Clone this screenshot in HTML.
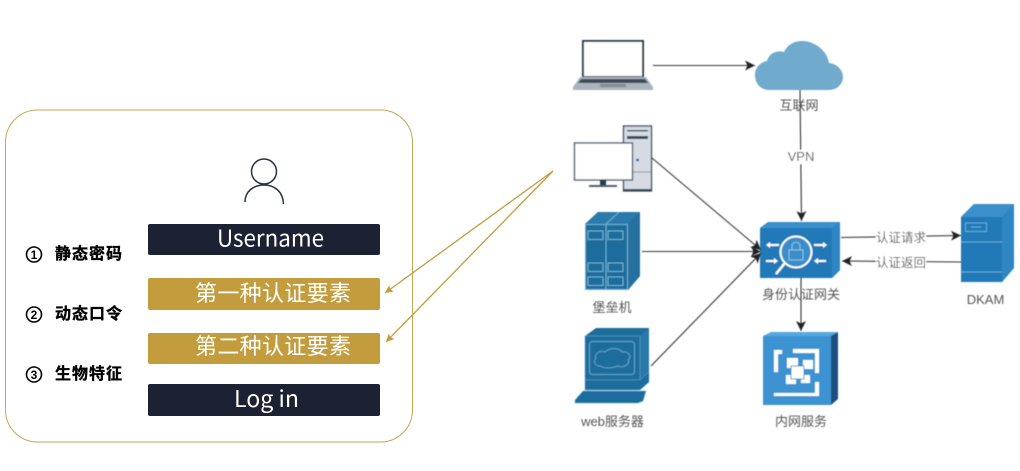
<!DOCTYPE html>
<html><head><meta charset="utf-8">
<style>
html,body{margin:0;padding:0;background:#fff;width:1020px;height:471px;overflow:hidden}
svg{display:block}
.cn{font-family:"Liberation Sans","Noto Sans CJK SC",sans-serif}
.lab{font-family:"Noto Sans CJK SC","Liberation Sans",sans-serif;font-size:16px;font-weight:700;fill:#000;stroke:#000;stroke-width:.35px}
.bar{font-family:"Noto Sans CJK SC","Liberation Sans",sans-serif;fill:#fff;text-anchor:start}
.g{font-family:"Liberation Sans","Noto Sans CJK SC",sans-serif;font-size:13px;fill:#555;text-anchor:middle}
</style></head><body>
<svg width="1020" height="471" viewBox="0 0 1020 471" xmlns="http://www.w3.org/2000/svg">
<defs>
<filter id="b" x="-5%" y="-5%" width="110%" height="110%"><feGaussianBlur stdDeviation="0.45"/></filter>
<filter id="s" x="-5%" y="-20%" width="110%" height="140%"><feGaussianBlur stdDeviation="0.25"/></filter>
<marker id="a" markerUnits="userSpaceOnUse" markerWidth="11" markerHeight="10" refX="10" refY="5" orient="auto"><path d="M0 0L10 5L0 10L2.5 5Z" fill="#222"/></marker>
<marker id="y" markerUnits="userSpaceOnUse" markerWidth="9" markerHeight="8" refX="8" refY="4" orient="auto"><path d="M0 0L8 4L0 8L1.5 4Z" fill="#c39c3d"/></marker>
</defs>

<!-- left panel -->
<rect x="5.5" y="110" width="407" height="332" rx="32" fill="#fff" stroke="#cba552" stroke-width="1"/>
<circle cx="264" cy="171.500" r="12.500" fill="none" stroke="#2a3143" stroke-width="1.500"/>
<path d="M245 202C245 191 254 185 264 185C274 185 283 191 283.500 204" fill="none" stroke="#2a3143" stroke-width="1.500"/>
<rect x="148" y="224" width="232" height="31" rx="2" fill="#1c2133"/>
<rect x="148" y="278" width="232" height="32" rx="2" fill="#c39c3d"/>
<rect x="148" y="333" width="232" height="31" rx="2" fill="#c39c3d"/>
<rect x="148" y="384" width="232" height="32" rx="2" fill="#1c2133"/>
<g filter="url(#s)">
<text class="bar" x="217" y="246.500" font-size="23" textLength="107" lengthAdjust="spacingAndGlyphs">Username</text>
<text class="bar" x="195" y="301" font-size="22" textLength="156">第一种认证要素</text>
<text class="bar" x="195" y="354" font-size="22" textLength="156">第二种认证要素</text>
<text class="bar" x="234" y="407" font-size="23" textLength="65" lengthAdjust="spacingAndGlyphs">Log in</text>
</g>

<g fill="none" stroke="#000" stroke-width="1.600">
<circle cx="34" cy="254.500" r="7.500"/><circle cx="34" cy="314.500" r="7.500"/><circle cx="34" cy="374.500" r="7.500"/>
</g>
<g class="cn" font-size="12" font-weight="700" text-anchor="middle" fill="#000">
<text x="34" y="259">1</text><text x="34" y="319">2</text><text x="34" y="379">3</text>
</g>
<text class="lab" x="55" y="259" textLength="67">静态密码</text>
<text class="lab" x="55" y="319" textLength="67">动态口令</text>
<text class="lab" x="55" y="379" textLength="67">生物特征</text>

<line x1="553" y1="171" x2="385" y2="293" stroke="#c39c3d" stroke-width="1.300" marker-end="url(#y)"/>
<line x1="553" y1="171" x2="386" y2="342" stroke="#c39c3d" stroke-width="1.300" marker-end="url(#y)"/>

<!-- right diagram -->
<g filter="url(#b)">
<!-- laptop -->
<rect x="583" y="41" width="60" height="36" fill="#fff" stroke="#2c3e50" stroke-width="2"/>
<path d="M580 77H646L653 87V90H573V87Z" fill="#a9b4bd"/>
<path d="M581 79H645L648 83H578Z" fill="#3f4c59"/>
<rect x="600" y="84" width="26" height="3" fill="#7f8c97"/>
<!-- cloud -->
<path d="M770 90C760 90 755 83 755 75C755 67 761 62 767 61C769 53 777 50 784 52C788 44 795 41 802 41C814 41 827 50 829 63C838 64 843 71 843 77C843 84 837 90 829 90Z" fill="#6faacd"/>
<!-- PC -->
<rect x="623.500" y="126" width="28" height="65" fill="#d5dbe0" stroke="#34495e" stroke-width="1.300"/>
<rect x="627" y="130" width="21" height="1.500" fill="#34495e"/>
<rect x="627" y="136" width="21" height="3" fill="#34495e"/>
<line x1="624" y1="172" x2="651" y2="172" stroke="#8a97a3"/>
<rect x="623" y="189" width="29" height="2" fill="#34495e"/>
<circle cx="637.500" cy="160" r="1.500" fill="#2a6fd1"/>
<rect x="574.500" y="143" width="58" height="37" fill="#fff" stroke="#4d6176" stroke-width="1.400"/>
<rect x="600" y="180" width="6" height="5" fill="#2c3e50"/>
<rect x="589" y="185" width="28" height="2" fill="#4d6176"/>
<!-- bastion -->
<path d="M585 224L598 212H640V276L628 290H585Z" fill="#1f6c9c"/>
<path d="M585 224L598 212H640L628 224Z" fill="#2a7aab"/>
<path d="M628 224L640 212V276L628 290Z" fill="#266f9f"/>
<g fill="none" stroke="#6fb3d4" stroke-width="1">
<rect x="585.500" y="224.500" width="42" height="65"/>
<path d="M606 224V290M606 224L619 212"/>
<rect x="588" y="231" width="15" height="8.500"/><rect x="608" y="231" width="15" height="8.500"/>
<rect x="588" y="263" width="15" height="8.500"/><rect x="608" y="263" width="15" height="8.500"/>
<rect x="588" y="277" width="15" height="8.500"/><rect x="608" y="277" width="15" height="8.500"/>
</g>
<!-- web server -->
<path d="M585 336L596 328H649V371L640 380V390L649 382V372L640 380H585Z" fill="#1f6c9c"/>
<path d="M640 336L649 328V373L640 381Z" fill="#2a78a8"/>
<rect x="585" y="336" width="55" height="44" fill="#1f6c9c" stroke="#5fa8cc" stroke-width=".6"/>
<rect x="589.500" y="341.500" width="45" height="33" rx="3" fill="none" stroke="#5fa8cc"/>
<path d="M600 366C594 366 593 360 596 358C594 353 601 350 605 352C610 347 620 348 622 352C630 351 632 358 628 360C631 365 622 368 618 366C613 368 605 369 600 366Z" fill="none" stroke="#5fa8cc"/>
<path d="M585 380H640L649 372V382L640 390H585Z" fill="#1f6c9c" stroke="#5fa8cc" stroke-width=".5"/>
<path d="M583 391H646L643 401L638 403H575V400Z" fill="#1f6c9c" stroke="#5fa8cc" stroke-width=".5"/>
<!-- gateway -->
<path d="M760 228L768 222H840V270L832 278H760Z" fill="#2479b8"/>
<path d="M760 228L768 222H840L832 228Z" fill="#3a90cc"/>
<path d="M832 228L840 222V270L832 278Z" fill="#2f86c3"/>
<circle cx="796" cy="252" r="15.500" fill="#3a8dc9" stroke="#fff" stroke-width="2"/>
<line x1="785" y1="263" x2="776" y2="274" stroke="#fff" stroke-width="2.500"/>
<rect x="789" y="250" width="14" height="10" fill="none" stroke="#8cc3e8"/>
<path d="M792 250V246C792 241 800 241 800 246V250" fill="none" stroke="#8cc3e8"/>
<g stroke="#fff" stroke-width="2">
<line x1="769" y1="245" x2="779" y2="245"/><line x1="814" y1="245" x2="824" y2="245"/>
<line x1="766" y1="261" x2="775" y2="261"/><line x1="817" y1="261" x2="826" y2="261"/>
</g>
<g fill="#fff">
<path d="M766 245L770 242V248Z"/><path d="M827 245L823 242V248Z"/>
<path d="M778 261L774 258V264Z"/><path d="M814 261L818 258V264Z"/>
</g>
<!-- DKAM -->
<path d="M961 217L974 204H1014V268L1002 282H961Z" fill="#2479b8"/>
<path d="M961 217L974 204H1014L1002 217Z" fill="#3a90cc"/>
<path d="M1002 217L1014 204V268L1002 282Z" fill="#2f86c3"/>
<rect x="965.500" y="223" width="21" height="8.500" fill="none" stroke="#66abda"/>
<line x1="971" y1="227" x2="981" y2="227" stroke="#66abda"/>
<line x1="961" y1="242" x2="1002" y2="242" stroke="#66abda"/>
<line x1="961" y1="272" x2="1002" y2="272" stroke="#66abda"/>
<!-- intranet -->
<rect x="763" y="336" width="68" height="69" fill="#3d93d2"/>
<path d="M763 336L771 332H838L831 336Z" fill="#55a8e0"/>
<path d="M831 336L838 332V399L831 405Z" fill="#1c4f80"/>
<path d="M774 350H782V354H778V372H774Z" fill="#fff"/>
<path d="M793 349H819V373H815V353H793Z" fill="#fff"/>
<path d="M774 393H815V382H819V396H774Z" fill="#fff"/>
<rect x="787" y="358" width="11" height="10" fill="#fff"/>
<rect x="803" y="360" width="10" height="9" fill="#fff"/>
<rect x="786" y="375" width="10" height="9" fill="#fff"/>
<rect x="801" y="375" width="9" height="8" fill="#fff"/>
<rect x="791" y="366" width="13" height="13" fill="#fff" stroke="#3d93d2"/>

<!-- connectors -->
<g fill="none" stroke="#333" stroke-width="1.100">
<line x1="653" y1="65.500" x2="755" y2="65.500" marker-end="url(#a)"/>
<line x1="800" y1="90" x2="801.500" y2="221" marker-end="url(#a)"/>
<line x1="652" y1="158" x2="761" y2="250" marker-end="url(#a)"/>
<line x1="642" y1="251.500" x2="761" y2="251.500" marker-end="url(#a)"/>
<line x1="651" y1="366" x2="761" y2="253" marker-end="url(#a)"/>
<line x1="801" y1="278" x2="801" y2="331" marker-end="url(#a)"/>
<line x1="841" y1="237.500" x2="961" y2="235.500" marker-end="url(#a)"/>
<line x1="961" y1="262" x2="842" y2="261" marker-end="url(#a)"/>
</g>

<!-- labels -->
<rect x="786" y="150" width="30" height="14" fill="#fff"/>
<rect x="876" y="229" width="50" height="16" fill="#fff"/>
<rect x="876" y="254" width="50" height="16" fill="#fff"/>
<text class="g" x="799" y="110" style="font-size:13px">互联网</text>
<text class="g" x="801" y="161">VPN</text>
<text class="g" x="901" y="242" style="font-size:12.500px">认证请求</text>
<text class="g" x="901" y="267" style="font-size:12.500px">认证返回</text>
<text class="g" x="801" y="299" style="font-size:13px">身份认证网关</text>
<text class="g" x="985.500" y="304">DKAM</text>
<text class="g" x="612" y="312">堡垒机</text>
<text class="g" x="612.500" y="426">web服务器</text>
<text class="g" x="801" y="426">内网服务</text>
</g>
</svg>
</body></html>
